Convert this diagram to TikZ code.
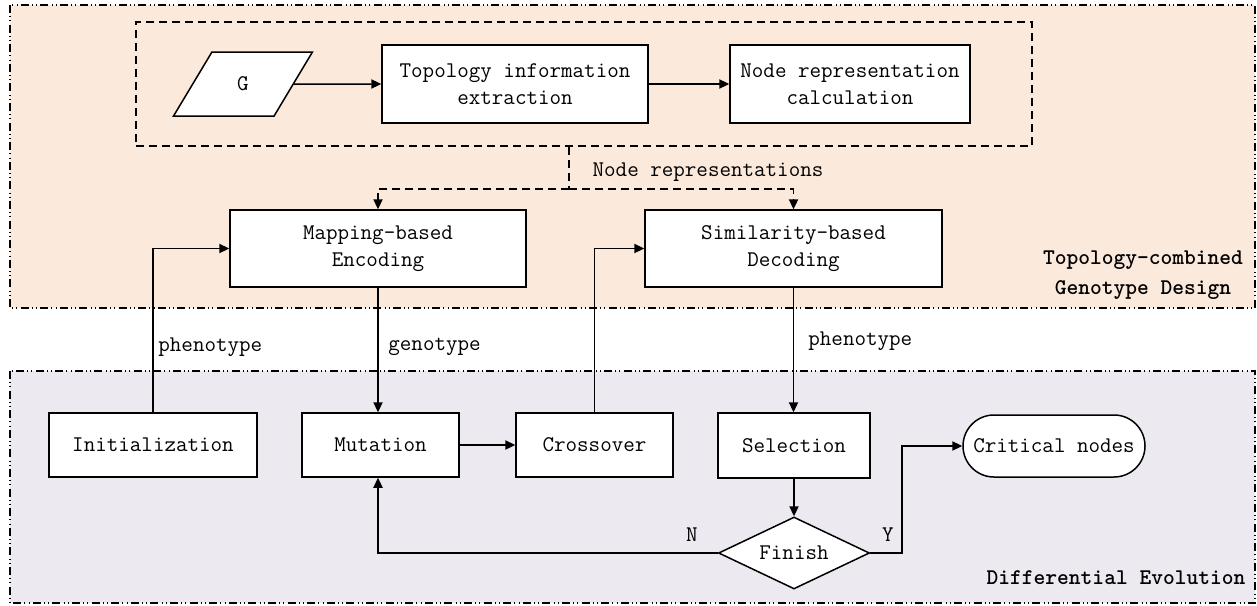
\documentclass[tikz,border=0pt]{standalone}
\usepackage{fontspec}
\usetikzlibrary{arrows.meta,shapes.geometric,shapes.misc}
\definecolor{peach}{RGB}{251,233,220}
\definecolor{lav}{RGB}{236,233,241}
\begin{document}
\begin{tikzpicture}[x=0.5pt,y=-0.5pt,
  every node/.style={font=\ttfamily\fontsize{11.2}{13.5}\selectfont},
  box/.style={draw,fill=white,line width=0.75pt,align=center,inner sep=0pt},
  conn/.style={line width=0.75pt,-{Triangle[length=5pt,width=4.6pt]}},
  region/.style={line width=0.6pt,dash pattern=on 4pt off 1.6pt on 0.5pt off 1.6pt on 0.5pt off 1.6pt},
  grpdash/.style={line width=0.75pt,dash pattern=on 4pt off 2.5pt},
  lbl/.style={inner sep=0pt}]
\useasboundingbox (0,0) rectangle (1257,605);
% regions
\draw[region,fill=peach] (10,5) rectangle (1255,308);
\draw[region,fill=lav] (10,371) rectangle (1255,603);
% group box
\node (grp) [grpdash,draw,minimum width=448pt,minimum height=62pt,inner sep=0pt] at (584,84) {};
% top nodes
\node (G) [draw,fill=white,line width=0.75pt,trapezium,trapezium left angle=63.4,trapezium right angle=116.6,trapezium stretches=true,minimum width=69.5pt,minimum height=32pt,inner sep=0pt] at (243,84) {G};
\node (topo) [box,minimum width=133pt,minimum height=39pt] at (515,84) {Topology information\\extraction};
\node (nrep) [box,minimum width=120pt,minimum height=39pt] at (850,84) {Node representation\\calculation};
\node (map) [box,minimum width=148pt,minimum height=38.5pt] at (378,248.5) {Mapping-based\\Encoding};
\node (sim) [box,minimum width=148.5pt,minimum height=38.5pt] at (793.5,248.5) {Similarity-based\\Decoding};
% bottom nodes
\node (init) [box,minimum width=104pt,minimum height=32pt] at (153,445) {Initialization};
\node (mut) [box,minimum width=78.5pt,minimum height=32pt] at (380.5,445) {Mutation};
\node (cross) [box,minimum width=78.5pt,minimum height=32pt] at (594.5,445) {Crossover};
\node (sel) [box,minimum width=76pt,minimum height=32.5pt] at (794,445.5) {Selection};
\node (crit) [box,rounded rectangle,minimum width=91pt,minimum height=31pt] at (1054,446) {Critical nodes};
\node (fin) [box,diamond,aspect=2.2,minimum width=75.5pt,minimum height=36pt] at (794,553) {Finish};
% top connectors
\draw[conn] (G.east) -- (topo.west);
\draw[conn] (topo.east) -- (nrep.west);
\coordinate (split) at (569,189);
\draw[grpdash] (grp.south -| split) -- (split);
\draw[grpdash,-{Triangle[length=5pt,width=4.6pt]}] (split) -| (map.north);
\draw[grpdash,-{Triangle[length=5pt,width=4.6pt]}] (split) -| (sim.north);
\node[lbl] (nrl) at (708,172) {Node representations};
% middle connectors
\draw[conn] (init.north) |- (map.west);
\draw[conn] (map.south) -- (map.south |- mut.north);
\draw[conn] (mut.east) -- (cross.west);
\draw[conn] (cross.north) |- (sim.west);
\draw[conn] (sim.south) -- (sim.south |- sel.north);
\draw[conn] (sel.south) -- (fin.north);
\coordinate (nturn) at (378,553);
\draw[conn] (fin.west) -- (nturn) -- (nturn |- mut.south);
\coordinate (yturn) at (902,553);
\draw[conn] (fin.east) -- (yturn) |- (crit.west);
\node[lbl,anchor=west] (l1) at (158,347) {phenotype};
\node[lbl,anchor=west] (l2) at (388,347) {genotype};
\node[lbl,anchor=west] (l3) at (808,341) {phenotype};
\node[lbl] (lN) at (692,535) {N};
\node[lbl] (lY) at (888,535) {Y};
% region labels
\node[lbl,align=center,font=\ttfamily\bfseries\fontsize{11.2}{15}\selectfont] (rt) at (1143,275) {Topology-combined\\Genotype Design};
\node[lbl,font=\ttfamily\bfseries\fontsize{11.2}{13.5}\selectfont] (rb) at (1116,578) {Differential Evolution};
\end{tikzpicture}
\end{document}
